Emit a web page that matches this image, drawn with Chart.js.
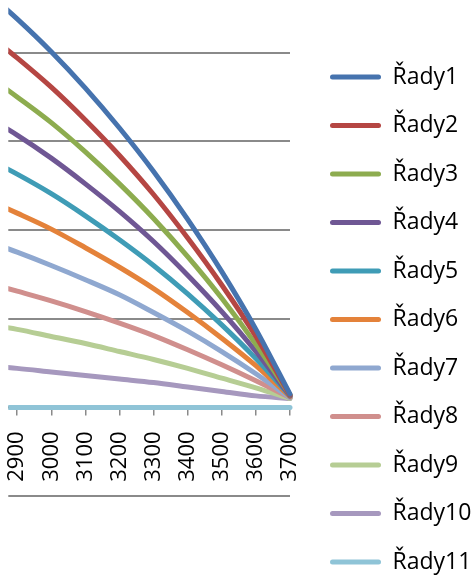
<!DOCTYPE html>
<html>
<head>
<meta charset="utf-8">
<script src="https://cdn.jsdelivr.net/npm/chart.js@4"></script>
<style>
  html, body { margin: 0; padding: 0; background: #fff; overflow: hidden; }
  /* the picture is a crop of a taller chart, so the canvas box runs past the window */
  #wrap { width: 474px; height: 579px; overflow: hidden; }
  #box { width: 474px; height: 639px; position: relative; }
</style>
</head>
<body>
<div id="wrap"><div id="box"><canvas id="myChart"></canvas></div></div>
<script>
// x positions of the data points
const xValues = [2800, 2900, 3000, 3100, 3200, 3300, 3400, 3500, 3600, 3700];

// series values
const rady1  = [4.72, 4.38, 4.01, 3.60, 3.15, 2.66, 2.12, 1.53, 0.88, 0.15];
const rady2  = [4.25, 3.94, 3.61, 3.24, 2.84, 2.40, 1.91, 1.38, 0.80, 0.14];
const rady3  = [3.78, 3.50, 3.21, 2.88, 2.52, 2.13, 1.70, 1.23, 0.71, 0.14];
const rady4  = [3.30, 3.07, 2.81, 2.52, 2.21, 1.87, 1.49, 1.08, 0.63, 0.13];
const rady5  = [2.83, 2.63, 2.41, 2.16, 1.89, 1.60, 1.28, 0.93, 0.55, 0.13];
const rady6  = [2.36, 2.19, 2.01, 1.80, 1.58, 1.34, 1.07, 0.78, 0.47, 0.12];
const rady7  = [1.89, 1.75, 1.60, 1.44, 1.27, 1.07, 0.86, 0.63, 0.38, 0.11];
const rady8  = [1.42, 1.31, 1.20, 1.08, 0.95, 0.81, 0.65, 0.48, 0.30, 0.11];
const rady9  = [0.94, 0.88, 0.80, 0.72, 0.63, 0.54, 0.44, 0.33, 0.22, 0.10];
const rady10 = [0.47, 0.44, 0.40, 0.36, 0.32, 0.28, 0.23, 0.18, 0.13, 0.10];
const rady11 = [0, 0, 0, 0, 0, 0, 0, 0, 0, 0];

const seriesNames = ['Řady1', 'Řady2', 'Řady3', 'Řady4', 'Řady5', 'Řady6',
                     'Řady7', 'Řady8', 'Řady9', 'Řady10', 'Řady11'];
const seriesColors = ['#4673ae', '#b54643', '#8dac4f', '#6f5794', '#3f9cb6', '#e4823a',
                      '#8fa8d0', '#d08f8d', '#b6cd94', '#a698be', '#8fc4d7'];
const allSeries = [rady1, rady2, rady3, rady4, rady5, rady6, rady7, rady8, rady9, rady10, rady11];

const datasets = allSeries.map((vals, i) => ({
  label: seriesNames[i],
  data: vals.map((v, j) => ({ x: xValues[j], y: v })),
  borderColor: seriesColors[i],
  backgroundColor: seriesColors[i],
  borderWidth: 5,
  pointRadius: 0,
  cubicInterpolationMode: 'monotone',
  borderCapStyle: 'round',
  borderJoinStyle: 'round',
  clip: { left: 0, top: 5, right: 3, bottom: 5 }
}));

const gridGray = '#8a8a8a';

const config = {
  type: 'line',
  data: { datasets: datasets },
  options: {
    responsive: true,
    maintainAspectRatio: false,
    animation: false,
    events: [],
    layout: { padding: { left: 5, right: 0, top: 0, bottom: 0 } },
    scales: {
      x: {
        type: 'linear',
        position: { y: 0 }, // horizontal axis crosses at 0
        min: 2874,
        max: 3700,
        grid: { drawOnChartArea: false, drawTicks: true, tickLength: 7, color: gridGray, lineWidth: 1.5 },
        border: { display: true, color: gridGray, width: 1.5 },
        ticks: {
          stepSize: 100,
          includeBounds: false,
          minRotation: 90,
          maxRotation: 90,
          padding: 17,
          color: '#000',
          font: { family: 'Open Sans', size: 22 },
          callback: (value) => String(value)
        }
      },
      y: {
        position: 'right',
        min: -2.611,
        max: 4.593,
        grid: { color: gridGray, lineWidth: 2, drawTicks: false },
        border: { display: false },
        ticks: { display: false, stepSize: 1, includeBounds: false },
        afterFit: (scale) => { scale.width = 14.5; }
      }
    },
    plugins: {
      tooltip: { enabled: false },
      legend: {
        position: 'right',
        align: 'center',
        maxWidth: 169.5,
        labels: {
          boxWidth: 51,
          boxHeight: 5,
          padding: 25.5,
          useBorderRadius: true,
          borderRadius: 2.5,
          color: '#000',
          font: { family: 'Open Sans', size: 23 },
          generateLabels: (chart) =>
            Chart.defaults.plugins.legend.labels.generateLabels(chart)
              .map(item => Object.assign(item, { lineWidth: 0 }))
        }
      }
    }
  }
};

const ctx = document.getElementById('myChart').getContext('2d');
const myChart = new Chart(ctx, config);
</script>
</body>
</html>
